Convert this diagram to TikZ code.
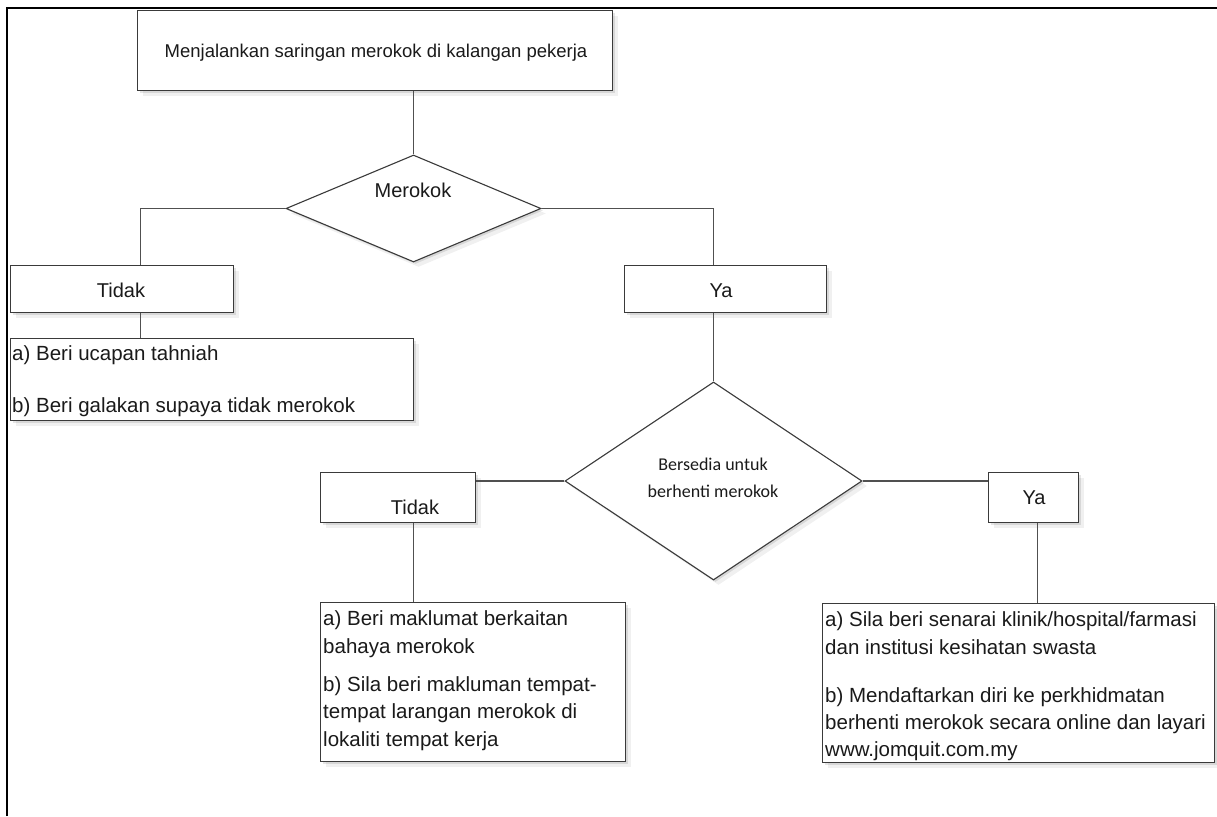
\documentclass[tikz,border=0pt]{standalone}
\usepackage{fontspec}
\setmainfont{Liberation Sans}
\newfontfamily\calfont{Carlito}
\usetikzlibrary{shapes.geometric,shadows}
\definecolor{edge}{HTML}{3A3A3A}
\definecolor{conncol}{HTML}{505050}
\definecolor{ink}{HTML}{1A1A1A}
\begin{document}
\begin{tikzpicture}[x=1pt,y=-1pt,
  soft/.style={drop shadow={shadow xshift=2pt,shadow yshift=-2pt,opacity=.10,fill=black},
               drop shadow={shadow xshift=5pt,shadow yshift=-5pt,opacity=.06,fill=black}},
  box/.style={draw=edge,line width=1.3pt,fill=white,inner sep=0pt,anchor=north west,soft},
  dia/.style={diamond,draw=edge,line width=1.1pt,fill=white,inner sep=0pt,soft},
  conn/.style={draw=conncol,line width=1.1pt},
  lbl/.style={font=\fontsize{20}{24}\selectfont,text=ink,inner sep=0pt,anchor=base},
  item/.style={font=\fontsize{20.5}{24}\selectfont,text=ink,inner sep=0pt,anchor=base west},
]
\useasboundingbox (0,0) rectangle (1217,816);
\fill[white] (0,0) rectangle (1217,816);
% outer frame
\draw[line width=2.2pt,black] (7,816) -- (7,8) -- (1217,8);

% boxes
\node[box,minimum width=475pt,minimum height=80pt] (top) at (137,10) {};
\node[dia,minimum width=255pt,minimum height=107pt] (d1) at (413.5,208.5) {};
\node[box,minimum width=223pt,minimum height=47pt] (t1) at (10,265) {};
\node[box,minimum width=403pt,minimum height=82pt] (l1) at (10,338) {};
\node[box,minimum width=202pt,minimum height=47pt] (y1) at (624,265) {};
\node[dia,minimum width=297pt,minimum height=198pt] (d2) at (713.5,481) {};
\node[box,minimum width=155pt,minimum height=50pt] (t2) at (320,472) {};
\node[box,minimum width=305pt,minimum height=159pt] (l2) at (320,602) {};
\node[box,minimum width=392pt,minimum height=159pt] (l3) at (822,603) {};
\node[box,minimum width=90pt,minimum height=50pt] (y2) at (988,472) {};

% connectors
\draw[conn] (top.south -| d1.north) -- (d1.north);
\draw[conn] (d1.west) -| ([xshift=18.5pt]t1.north);
\draw[conn] ([xshift=18.5pt]t1.south) -- ([xshift=18.5pt]t1.south |- l1.north);
\draw[conn] (d1.east) -| ([xshift=-12pt]y1.north);
\draw[conn] (d2.north |- y1.south) -- (d2.north);
\draw[conn] (d2.west) -- (d2.west -| t2.east);
\draw[conn] ([xshift=15.5pt]t2.south) -- ([xshift=15.5pt]t2.south |- l2.north);
\draw[conn] (d2.east) -- (d2.east -| y2.west);
\draw[conn] ([xshift=4pt]y2.south) -- ([xshift=4pt]y2.south |- l3.north);

% labels
\node[lbl,font=\fontsize{18.5}{22}\selectfont] (ttop) at (376,58) {Menjalankan saringan merokok di kalangan pekerja};
\node[lbl] (tm) at (413,197) {Merokok};
\node[lbl] (tt1) at (121,297) {Tidak};
\node[lbl] (ty1) at (721,297) {Ya};
\node[lbl,font=\calfont\fontsize{18}{27}\selectfont,align=center,anchor=center] (td2) at (713,478) {Bersedia untuk\\berhenti merokok};
\node[lbl] (tt2) at (415,514) {Tidak};
\node[lbl] (ty2) at (1034,504) {Ya};

% list 1
\node[item] (l1a) at (12,360.5) {a) Beri ucapan tahniah};
\node[item] (l1b) at (12,412.5) {b) Beri galakan supaya tidak merokok};
% list 2
\node[item] (l2a) at (323,625) {a) Beri maklumat berkaitan};
\node[item] (l2b) at (323,653) {bahaya merokok};
\node[item] (l2c) at (323,691) {b) Sila beri makluman tempat-};
\node[item] (l2d) at (323,718) {tempat larangan merokok di};
\node[item] (l2e) at (323,746) {lokaliti tempat kerja};
% list 3
\node[item] (l3a) at (825,626) {a) Sila beri senarai klinik/hospital/farmasi};
\node[item] (l3b) at (825,654) {dan institusi kesihatan swasta};
\node[item] (l3c) at (825,702) {b) Mendaftarkan diri ke perkhidmatan};
\node[item] (l3d) at (825,729) {berhenti merokok secara online dan layari};
\node[item] (l3e) at (825,756) {www.jomquit.com.my};
\end{tikzpicture}
\end{document}
